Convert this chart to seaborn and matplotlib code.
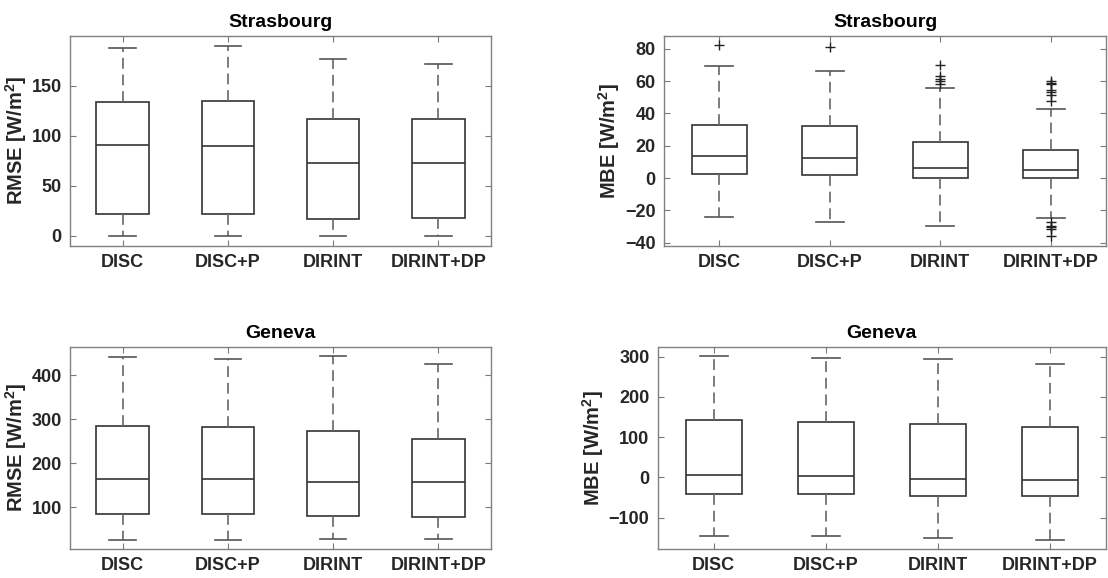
import numpy as np
import pandas as pd
import matplotlib
matplotlib.use("Agg")
import matplotlib.pyplot as plt
import seaborn as sns

plt.rcParams['font.family'] = ['Liberation Sans', 'DejaVu Sans']
plt.rcParams['font.weight'] = 'bold'
plt.rcParams['mathtext.fontset'] = 'custom'
plt.rcParams['mathtext.rm'] = 'Liberation Sans:bold'
plt.rcParams['mathtext.bf'] = 'Liberation Sans:bold'

methods = ["DISC", "DISC+P", "DIRINT", "DIRINT+DP"]

# Box statistics per method: (lower whisker, Q1, median, Q3, upper whisker)
rmse_strasbourg = [(0, 22.2, 91.3, 133.7, 187.8),
                   (0, 21.6, 90.3, 134.7, 190.1),
                   (0, 16.9, 72.4, 116.8, 177.2),
                   (0, 18.2, 73.0, 116.5, 172.2)]
rmse_strasbourg_out_lo = [[], [], [], []]
rmse_strasbourg_out_hi = [[], [], [], []]

mbe_strasbourg = [(-24.3, 2.3, 13.9, 32.5, 69.5),
                  (-27.4, 1.7, 12.7, 31.9, 66.4),
                  (-29.7, 0.2, 6.4, 22.6, 55.6),
                  (-25.0, 0.2, 4.8, 17.3, 42.5)]
mbe_strasbourg_out_lo = [[], [], [], [-27.0, -29.5, -30.5, -31.5, -35.7]]
mbe_strasbourg_out_hi = [[82.0], [81.0],
                         [58.1, 60.3, 61.0, 63.4, 70.1],
                         [47.8, 51.3, 52.9, 54.5, 58.1, 58.7, 60.3]]

rmse_geneva = [(26.4, 85.5, 165.0, 284.8, 442.3),
               (26.4, 85.5, 163.6, 283.2, 437.0),
               (28.7, 80.9, 158.2, 273.4, 443.0),
               (27.2, 78.6, 157.5, 256.0, 425.0)]
rmse_geneva_out_lo = [[], [], [], []]
rmse_geneva_out_hi = [[], [], [], []]

mbe_geneva = [(-144.8, -42.0, 5.1, 143.4, 301.6),
              (-145.6, -42.0, 3.5, 136.8, 296.6),
              (-150.6, -46.2, -4.8, 131.9, 293.3),
              (-154.8, -46.2, -6.4, 125.2, 281.7)]
mbe_geneva_out_lo = [[], [], [], []]
mbe_geneva_out_hi = [[], [], [], []]


def expand(stats, out_lo, out_hi):
    """Build a sample whose box-plot statistics equal the given ones."""
    wlo, q1, med, q3, whi = stats
    kl, kh = len(out_lo), len(out_hi)
    m = max(kl, kh) + 3
    vals = (sorted(out_lo) + [wlo] * (m - kl) + [q1] + [med] * (m - 1) + [med]
            + [q3] * m + [whi] * (m - kh) + sorted(out_hi))
    return vals


def frame(stats_list, lo_list, hi_list):
    rows = []
    for name, st, lo, hi in zip(methods, stats_list, lo_list, hi_list):
        for v in expand(st, lo, hi):
            rows.append((name, v))
    return pd.DataFrame(rows, columns=["method", "value"])


panels = [
    ("Strasbourg", r"RMSE [W/m$^\mathbf{2}$]", rmse_strasbourg, rmse_strasbourg_out_lo, rmse_strasbourg_out_hi,
     (-10, 200), [0, 50, 100, 150], [0.0632, 0.5744, 0.3800, 0.3638]),
    ("Strasbourg", r"MBE [W/m$^\mathbf{2}$]", mbe_strasbourg, mbe_strasbourg_out_lo, mbe_strasbourg_out_hi,
     (-42, 88), [-40, -20, 0, 20, 40, 60, 80], [0.5993, 0.5744, 0.3989, 0.3638]),
    ("Geneva", r"RMSE [W/m$^\mathbf{2}$]", rmse_geneva, rmse_geneva_out_lo, rmse_geneva_out_hi,
     (5, 465), [100, 200, 300, 400], [0.0632, 0.0502, 0.3800, 0.3500]),
    ("Geneva", r"MBE [W/m$^\mathbf{2}$]", mbe_geneva, mbe_geneva_out_lo, mbe_geneva_out_hi,
     (-178, 325), [-100, 0, 100, 200, 300], [0.5936, 0.0502, 0.4043, 0.3500]),
]

fig = plt.figure(figsize=(11.08, 5.78), dpi=100)
box_c = "#333333"
for title, ylabel, st, lo, hi, ylim, yticks, pos in panels:
    ax = fig.add_axes(pos)
    df = frame(st, lo, hi)
    sns.boxplot(data=df, x="method", y="value", ax=ax, width=0.5, whis=1.5,
                color="white", linecolor=box_c, linewidth=1.2,
                whiskerprops=dict(linestyle=(0, (6.5, 3.5)), color="#666666"),
                capprops=dict(color="#555555"),
                medianprops=dict(color=box_c),
                flierprops=dict(marker="+", markersize=6.5, markeredgecolor="#222222",
                                markeredgewidth=1.0))
    ax.set_xlim(-0.5, 3.5)
    ax.set_ylim(*ylim)
    ax.set_yticks(yticks)
    ax.set_xlabel("")
    ax.set_ylabel(ylabel, fontsize=14.5, fontweight="bold", color="#262626", labelpad=2)
    ax.set_title(title, fontsize=14, fontweight="bold", pad=6)
    ax.tick_params(direction="in", top=True, right=True, length=4, color="#7a7a7a",
                   labelsize=13, labelcolor="#262626", pad=6)
    for lab in ax.get_xticklabels() + ax.get_yticklabels():
        lab.set_fontweight("bold")
    for s in ax.spines.values():
        s.set_color("#808080")
        s.set_linewidth(1.0)

fig.savefig("out.png", dpi=100)
